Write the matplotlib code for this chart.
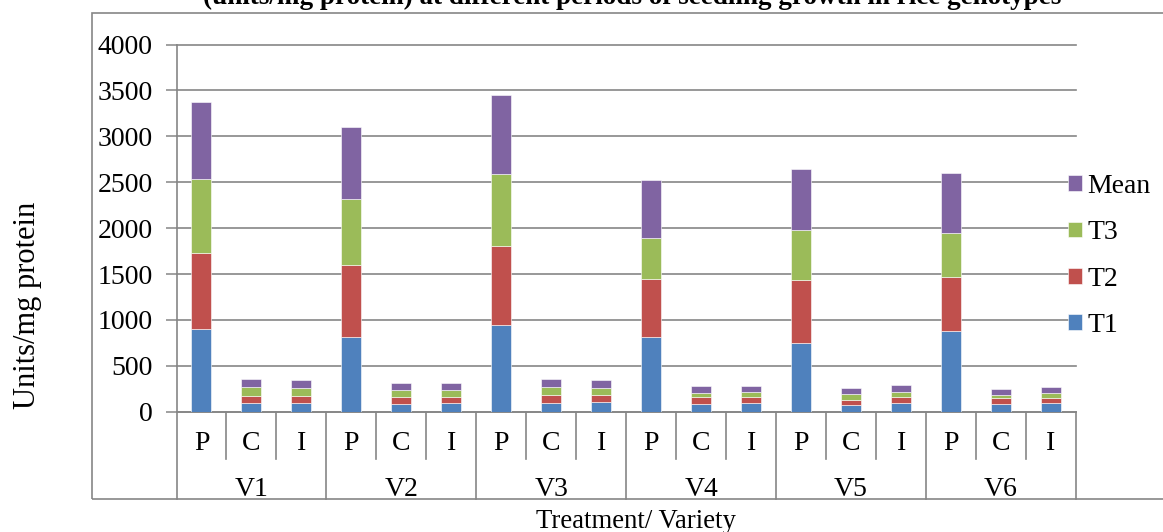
import matplotlib
matplotlib.use('Agg')
import matplotlib.pyplot as plt
import matplotlib.patches
import matplotlib.transforms as mtransforms
import numpy as np

# Values (units/mg protein)
varieties = ['V1', 'V2', 'V3', 'V4', 'V5', 'V6']
treatments = ['P', 'C', 'I']
t1 = [900, 92, 95, 812, 84, 92, 946, 92, 106, 812, 87, 98, 746, 73, 90, 881, 88, 95]
t2 = [833, 83, 80, 782, 80, 72, 855, 90, 80, 629, 73, 62, 684, 59, 70, 582, 60, 58]
t3 = [797, 91, 84, 728, 73, 73, 790, 84, 73, 455, 48, 51, 553, 58, 60, 488, 38, 48]
mean = [843, 89, 86, 774, 79, 79, 864, 89, 86, 632, 69, 70, 661, 63, 73, 650, 62, 67]
y_ticks = [0, 500, 1000, 1500, 2000, 2500, 3000, 3500, 4000]

title = '(units/mg protein) at different periods of seedling growth in rice genotypes'
colors = {'T1': '#4F81BD', 'T2': '#C0504D', 'T3': '#9BBB59', 'Mean': '#8064A2'}
grey = '#868686'

W, H = 1163, 532
plt.rcParams['font.family'] = ['Liberation Serif', 'DejaVu Serif']


def fx(px):
    return px / W


def fy(py):
    return 1 - py / H


fig = plt.figure(figsize=(W / 100, H / 100), dpi=100)
ax = fig.add_axes([fx(176.5), fy(411.7), fx(1076) - fx(176.5), fy(44.5) - fy(411.7)])

x = np.arange(len(t1))
bottom = np.zeros(len(t1))
handles = {}
for name, vals in [('T1', t1), ('T2', t2), ('T3', t3), ('Mean', mean)]:
    handles[name] = ax.bar(x, vals, width=0.4, bottom=bottom, color=colors[name],
                           edgecolor='white', linewidth=0.4, zorder=3)
    bottom += np.array(vals)

ax.set_xlim(-0.5, len(t1) - 0.5)
ax.set_ylim(0, 4000)
ax.set_yticks(y_ticks)
ax.yaxis.grid(True, color=grey, lw=1.2, zorder=0)
for gl in ax.get_ygridlines():
    gl.set_clip_on(False)
ax.set_xticks([])
ax.tick_params(axis='y', length=8, width=1.1, color=grey, pad=9, labelsize=20)
for s in ['top', 'right']:
    ax.spines[s].set_visible(False)
for s in ['left', 'bottom']:
    ax.spines[s].set_color(grey)
    ax.spines[s].set_linewidth(1.2)

# Two-level category axis drawn below the plot
trans = mtransforms.blended_transform_factory(ax.transData, fig.transFigure)
clip = mtransforms.TransformedBbox(mtransforms.Bbox([[0, fy(498.7)], [1, 1]]), fig.transFigure)
for i in range(len(t1)):
    ax.text(i, fy(444), treatments[i % 3], transform=trans, ha='center', va='center',
            fontsize=20, clip_on=False)
for b in range(len(t1) + 1):
    edge = b % 3 == 0
    ax.plot([b - 0.5, b - 0.5], [fy(411.7), fy(498.7) if edge else fy(459)],
            transform=trans, color=grey, lw=1.2, clip_on=False)
for g, v in enumerate(varieties):
    t = ax.text(3 * g + 1, fy(489), v, transform=trans, ha='center', va='center',
                fontsize=20)
    t.set_clip_box(clip)
    t.set_clip_on(True)

# Outer chart frame
fig.add_artist(matplotlib.patches.Rectangle(
    (fx(91.7), fy(498.7)), 1.0, fy(12.7) - fy(498.7), transform=fig.transFigure,
    fill=False, edgecolor=grey, lw=1.2))

ax.legend([handles[k] for k in ['Mean', 'T3', 'T2', 'T1']], ['Mean', 'T3', 'T2', 'T1'],
          loc='center left', bbox_to_anchor=(fx(1068), fy(256)), bbox_transform=fig.transFigure,
          frameon=False, fontsize=20, handlelength=0.5, handleheight=0.5,
          handletextpad=0.2, labelspacing=0.77, borderpad=0, borderaxespad=0)

fig.text(fx(632), fy(3.5), title, ha='center', va='baseline', fontsize=19.5, fontweight='bold')
fig.text(fx(28), fy(305), 'Units/mg protein', rotation=90, ha='center', va='center', fontsize=22)
fig.text(fx(636), fy(521), 'Treatment/ Variety', ha='center', va='center', fontsize=19.3)

fig.savefig('out.png', dpi=100)
